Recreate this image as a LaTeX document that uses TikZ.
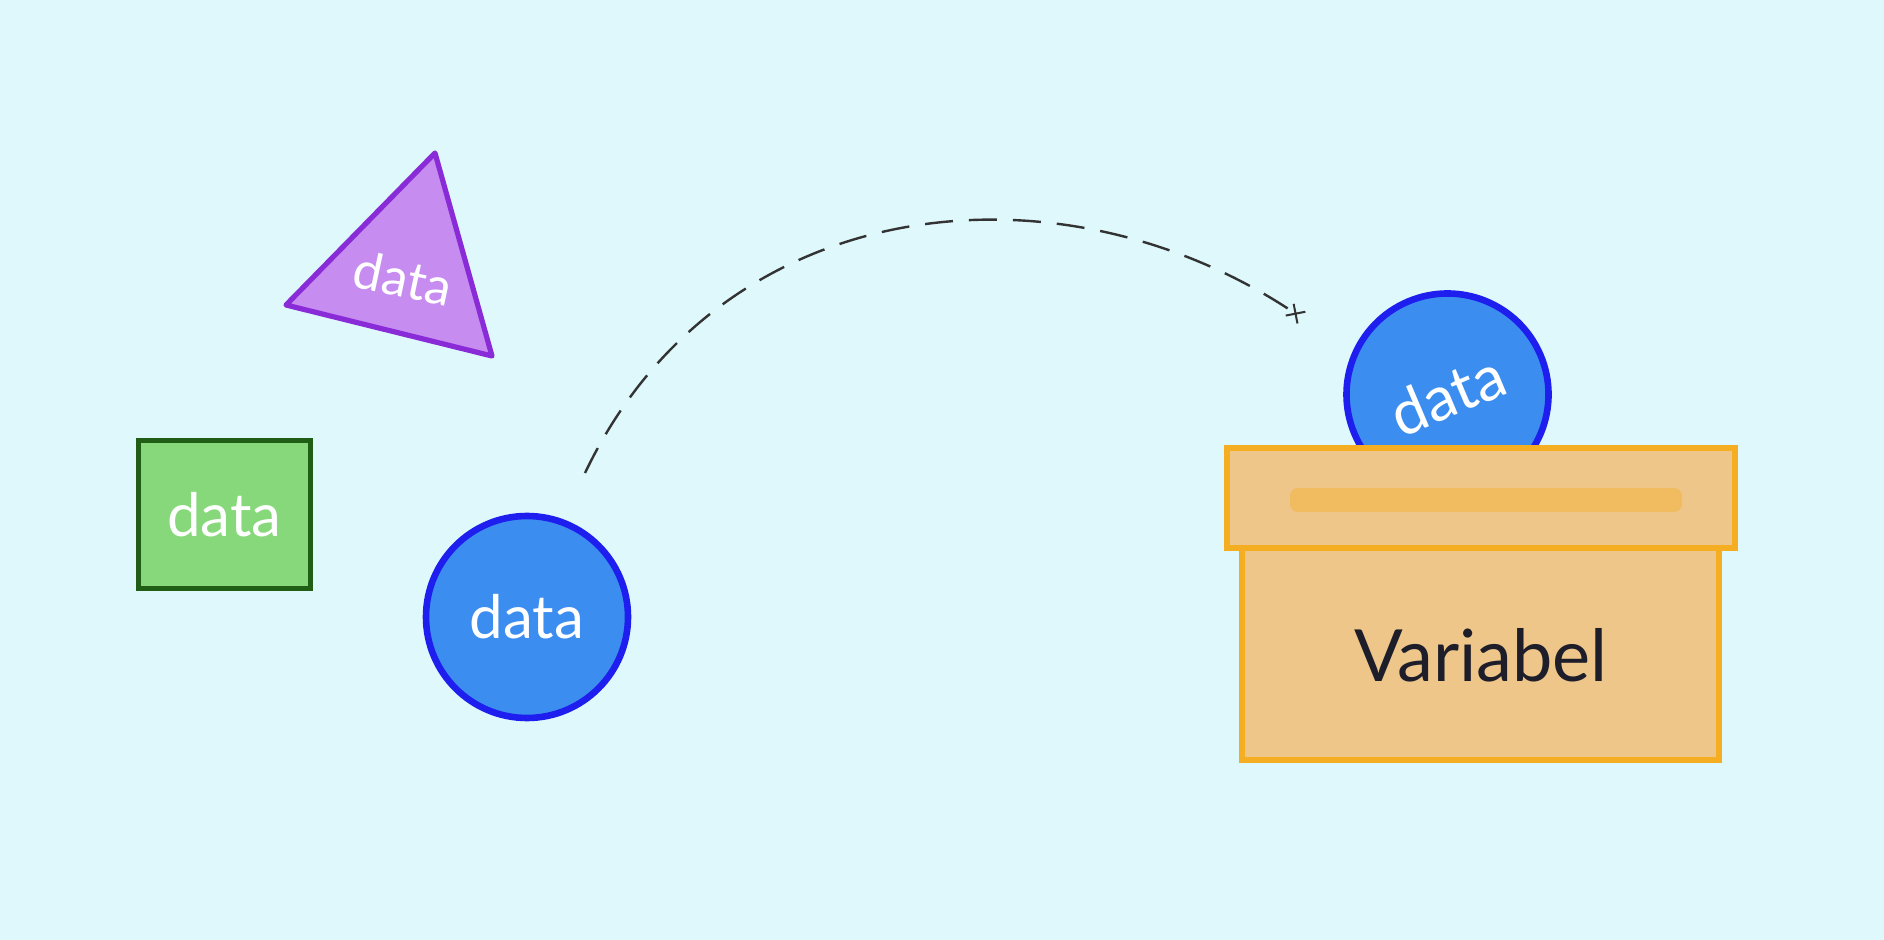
\documentclass[tikz,border=0pt]{standalone}
\usepackage{fontspec}
\setmainfont{Lato}
\usetikzlibrary{arrows.meta}
\definecolor{bgc}{HTML}{DEF8FB}
\definecolor{purfill}{HTML}{C68CF0}
\definecolor{purline}{HTML}{8A2BD8}
\definecolor{grfill}{HTML}{86D87A}
\definecolor{grline}{HTML}{1F5E14}
\definecolor{blfill}{HTML}{3C8DF0}
\definecolor{blline}{HTML}{1E1EEE}
\definecolor{boxfill}{HTML}{EFC68A}
\definecolor{boxline}{HTML}{F5AE22}
\definecolor{txtdark}{HTML}{1E1E2A}
\tikzset{
  datatext/.style={text=white, font=\fontsize{30}{32}\selectfont},
  ball/.style={circle, draw=blline, fill=blfill, line width=3.3pt, minimum size=101pt, inner sep=0pt, datatext},
  sq/.style={rectangle, draw=grline, fill=grfill, line width=2.8pt, minimum width=86pt, minimum height=74pt, inner sep=0pt, datatext},
  lidbox/.style={rectangle, draw=boxline, fill=boxfill, line width=3pt, inner sep=0pt},
  trail/.style={draw=black!80, line width=1.2pt, dash pattern=on 14pt off 8pt}
}
\begin{document}
\begin{tikzpicture}[x=0.5pt, y=-0.5pt]
\useasboundingbox[fill=bgc] (0,0) rectangle (1884,940);
% triangle
\coordinate (t1) at (435,153);
\coordinate (t2) at (286,305);
\coordinate (t3) at (492,356);
\draw[draw=purline, fill=purfill, line width=2.6pt, line join=round] (t1) -- (t2) -- (t3) -- cycle;
\node[datatext, font=\fontsize{26}{28}\selectfont, rotate=-12] (tri) at (403,278) {data};
% square
\node[sq] (sqr) at (224.5,514.5) {data};
% circle
\node[ball] (c1) at (527,617) {data};
% top circle
\node[ball, font=\fontsize{31}{33}\selectfont, rotate=23] (c2) at (1447.5,394.5) {data};
% box body and lid
\node[lidbox, minimum width=238.5pt, minimum height=106pt] (body) at (1480.5,654) {};
\node[lidbox, minimum width=254pt, minimum height=50pt] (lid) at (1481,498) {};
\fill[boxline, opacity=0.4, rounded corners=4pt] (1290,488) rectangle (1682,512);
\node[text=txtdark, font=\fontsize{36}{40}\selectfont] (var) at (1481,655) {Variabel};
% dashed trajectory
\coordinate (s) at (585,473);
\coordinate (e) at (1302,318);
\draw[trail, -{Rays[n=4, length=10pt, width=10pt, line width=1pt]}] (s) .. controls (720,190) and (1060,155) .. (e);
\end{tikzpicture}
\end{document}
